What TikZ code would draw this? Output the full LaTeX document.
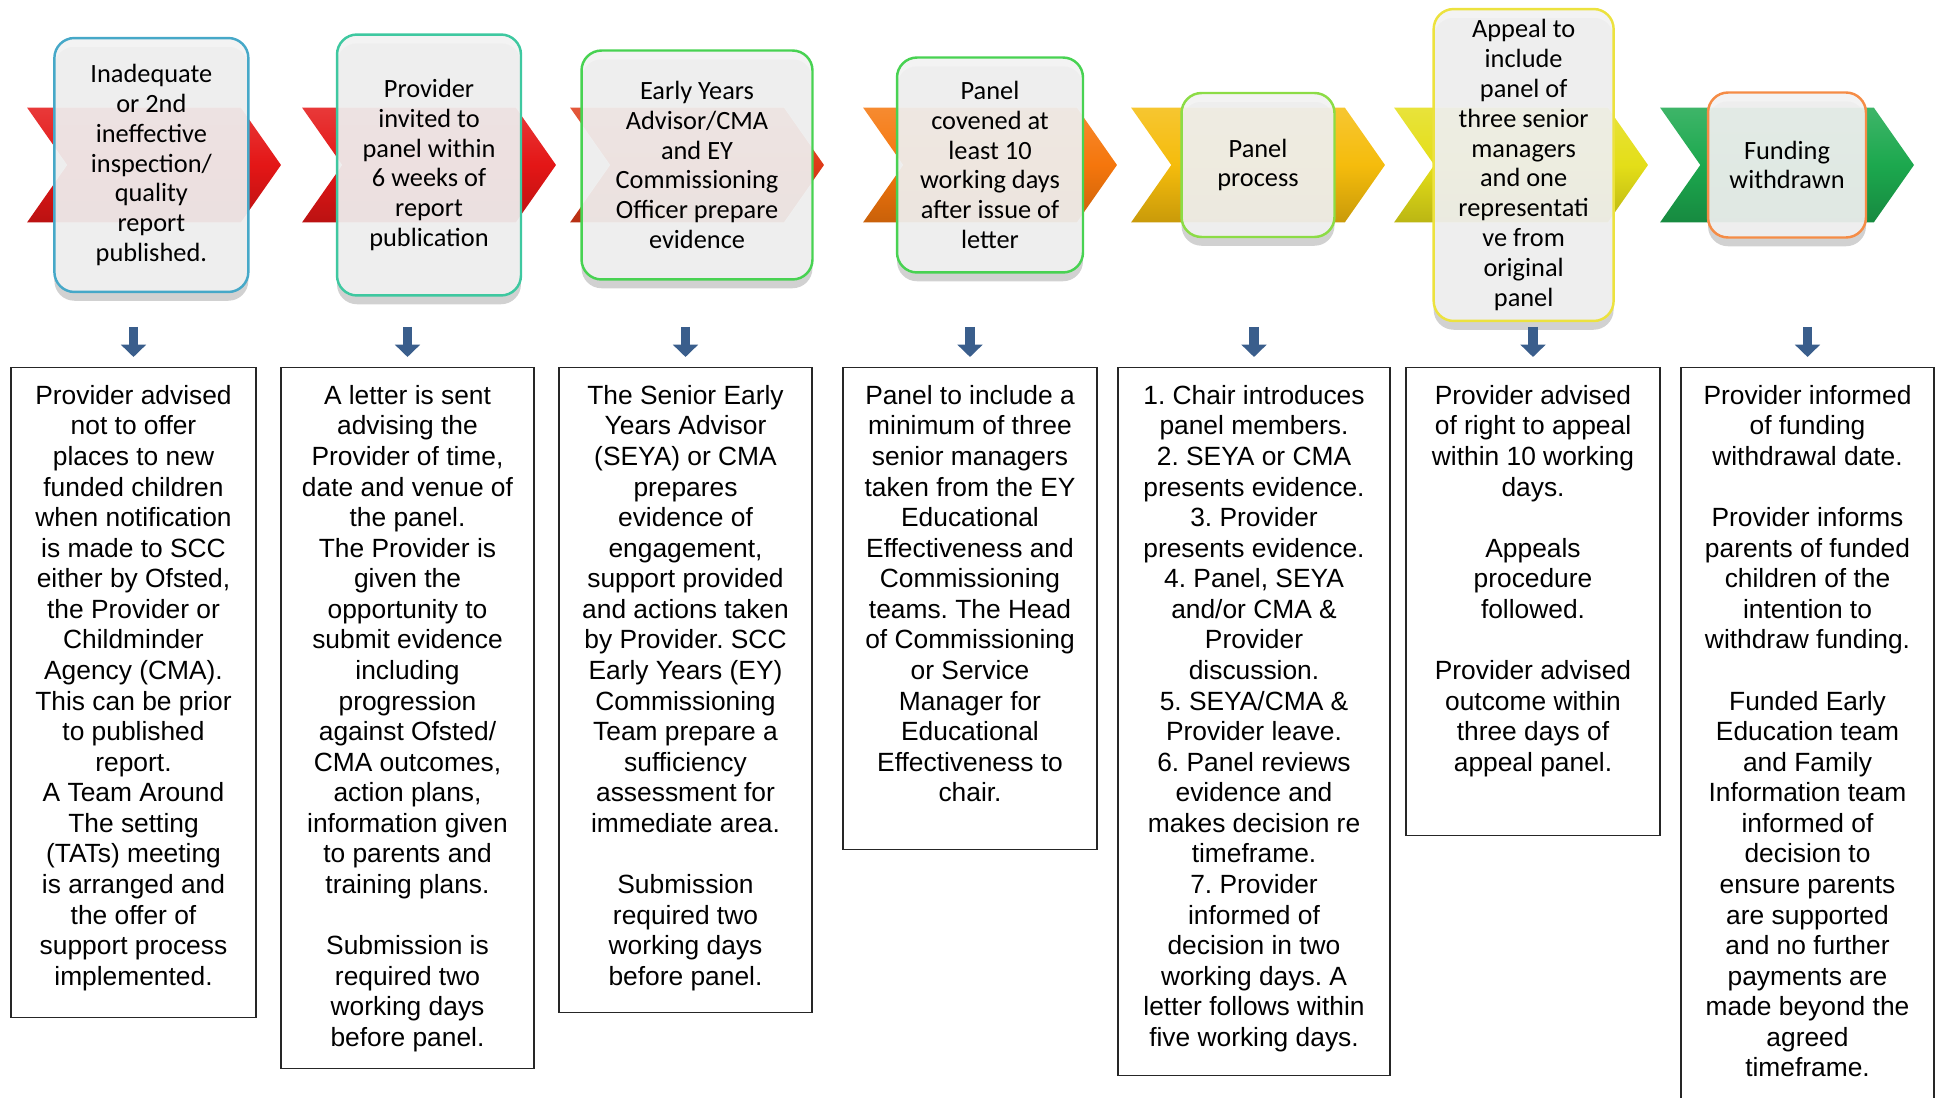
\documentclass[tikz,border=0pt]{standalone}
\usepackage{fontspec}
\setmainfont{Liberation Sans}
\newfontfamily\calibri{Carlito}
\usetikzlibrary{positioning,shapes.symbols,shadows,arrows.meta}
\frenchspacing

\definecolor{chevred}{RGB}{228,22,22}
\definecolor{chevredor}{RGB}{222,58,24}
\definecolor{chevorange}{RGB}{245,118,12}
\definecolor{chevamber}{RGB}{245,188,12}
\definecolor{chevyellow}{RGB}{228,222,24}
\definecolor{chevgreen}{RGB}{28,168,78}
\definecolor{lineblue}{RGB}{70,168,200}
\definecolor{lineteal}{RGB}{62,200,160}
\definecolor{linegreen}{RGB}{72,210,82}
\definecolor{linelime}{RGB}{140,220,70}
\definecolor{lineyellow}{RGB}{236,226,62}
\definecolor{lineorange}{RGB}{245,140,70}
\definecolor{arrowblue}{RGB}{58,94,140}

\begin{document}
\begin{tikzpicture}[x=0.02cm, y=-0.02cm,
  chev/.style={signal, signal from=west, signal to=east, signal pointer angle=110, minimum width=5.08cm, minimum height=2.3cm, inner sep=0pt, top color=#1!85!white, bottom color=#1!82!black, middle color=#1},
  topbox/.style={draw=#1, line width=1.4pt, rounded corners=0.4cm, fill=black!5, fill opacity=0.92, text opacity=1, align=center, inner sep=2pt, font=\calibri\fontsize{15}{17}\selectfont, drop shadow={shadow xshift=0pt, shadow yshift=-5pt, opacity=0.18, fill=black}},
  outbox/.style={draw=black!85, line width=0.8pt, fill=white, anchor=north, minimum width=5.06cm},
  outtext/.style={align=center, inner sep=0pt, font=\fontsize{15}{17.4}\selectfont},
  downarrow/.style={draw=arrowblue, line width=5.5pt, -{Triangle[width=14pt,length=7pt]}, shorten >=5.7pt}]

\useasboundingbox (0,0) rectangle (1943,1098);
\clip (0,0) rectangle (1943,1098);

% chevrons
\node[chev=chevred] (c1) at (154,165) {};
\node[chev=chevred] (c2) at (429,165) {};
\node[chev=chevredor] (c3) at (697,165) {};
\node[chev=chevorange] (c4) at (990,165) {};
\node[chev=chevamber] (c5) at (1258,165) {};
\node[chev=chevyellow] (c6) at (1521,165) {};
\node[chev=chevgreen] (c7) at (1787,165) {};

% stage boxes
\node[topbox=lineblue, minimum width=3.88cm, minimum height=5.08cm] (t1) at ([xshift=-1.5pt]c1) {Inadequate\\or 2nd\\ineffective\\inspection/\\quality\\report\\published.};
\node[topbox=lineteal, minimum width=3.68cm, minimum height=5.22cm] (t2) at (c2) {Provider\\invited to\\panel within\\6 weeks of\\report\\publication};
\node[topbox=linegreen, minimum width=4.62cm, minimum height=4.58cm] (t3) at (c3) {Early Years\\Advisor/CMA\\and EY\\Commissioning\\Officer prepare\\evidence};
\node[topbox=linegreen, minimum width=3.72cm, minimum height=4.3cm] (t4) at (c4) {Panel\\covened at\\least 10\\working days\\after issue of\\letter};
\node[topbox=linelime, minimum width=3.06cm, minimum height=2.88cm] (t5) at (c5) {Panel\\process};
\node[topbox=lineyellow, minimum width=3.6cm, minimum height=6.24cm] (t6) at ([xshift=1.5pt]c6) {Appeal to\\include\\panel of\\three senior\\managers\\and one\\representati\\ve from\\original\\panel};
\node[topbox=lineorange, minimum width=3.16cm, minimum height=2.9cm] (t7) at (c7) {Funding\\withdrawn};

% detail boxes
\node[outbox, minimum width=4.9cm, minimum height=13cm] (b1) at (133.5,367) {};
\node[outbox, minimum height=14.02cm] (b2) at (407.5,367) {};
\node[outbox, minimum height=12.9cm] (b3) at (685.5,367) {};
\node[outbox, minimum width=5.08cm, minimum height=9.64cm] (b4) at (970,367) {};
\node[outbox, minimum width=5.44cm, minimum height=14.16cm] (b5) at (1254,367) {};
\node[outbox, minimum width=5.08cm, minimum height=9.36cm] (b6) at (1533,367) {};
\node[outbox, minimum height=15cm] (b7) at (1807.5,367) {};

% detail texts
\node[outtext, below=10.2pt of b1.north] (x1) {Provider advised\\not to offer\\places to new\\funded children\\when notification\\is made to SCC\\either by Ofsted,\\the Provider or\\Childminder\\Agency (CMA).\\This can be prior\\to published\\report.\\A Team Around\\The setting\\(TATs) meeting\\is arranged and\\the offer of\\support process\\implemented.};
\node[outtext, below=10.2pt of b2.north] (x2) {A letter is sent\\advising the\\Provider of time,\\date and venue of\\the panel.\\The Provider is\\given the\\opportunity to\\submit evidence\\including\\progression\\against Ofsted/\\CMA outcomes,\\action plans,\\information given\\to parents and\\training plans.\\[17.4pt]Submission is\\required two\\working days\\before panel.};
\node[outtext, below=10.2pt of b3.north] (x3) {The Senior Early\\Years Advisor\\(SEYA) or CMA\\prepares\\evidence of\\engagement,\\support provided\\and actions taken\\by Provider. SCC\\Early Years (EY)\\Commissioning\\Team prepare a\\sufficiency\\assessment for\\immediate area.\\[17.4pt]Submission\\required two\\working days\\before panel.};
\node[outtext, below=10.2pt of b4.north] (x4) {Panel to include a\\minimum of three\\senior managers\\taken from the EY\\Educational\\Effectiveness and\\Commissioning\\teams. The Head\\of Commissioning\\or Service\\Manager for\\Educational\\Effectiveness to\\chair.};
\node[outtext, below=10.2pt of b5.north] (x5) {1. Chair introduces\\panel members.\\2. SEYA or CMA\\presents evidence.\\3. Provider\\presents evidence.\\4. Panel, SEYA\\and/or CMA \&\\Provider\\discussion.\\5. SEYA/CMA \&\\Provider leave.\\6. Panel reviews\\evidence and\\makes decision re\\timeframe.\\7. Provider\\informed of\\decision in two\\working days. A\\letter follows within\\five working days.};
\node[outtext, below=10.2pt of b6.north] (x6) {Provider advised\\of right to appeal\\within 10 working\\days.\\[17.4pt]Appeals\\procedure\\followed.\\[17.4pt]Provider advised\\outcome within\\three days of\\appeal panel.};
\node[outtext, below=10.2pt of b7.north] (x7) {Provider informed\\of funding\\withdrawal date.\\[17.4pt]Provider informs\\parents of funded\\children of the\\intention to\\withdraw funding.\\[17.4pt]Funded Early\\Education team\\and Family\\Information team\\informed of\\decision to\\ensure parents\\are supported\\and no further\\payments are\\made beyond the\\agreed\\timeframe.};

% arrows
\foreach \i in {1,...,7} {
  \coordinate[above=22.8pt of b\i.north] (a\i);
  \draw[downarrow] (a\i) -- (b\i.north);
}

\end{tikzpicture}
\end{document}
